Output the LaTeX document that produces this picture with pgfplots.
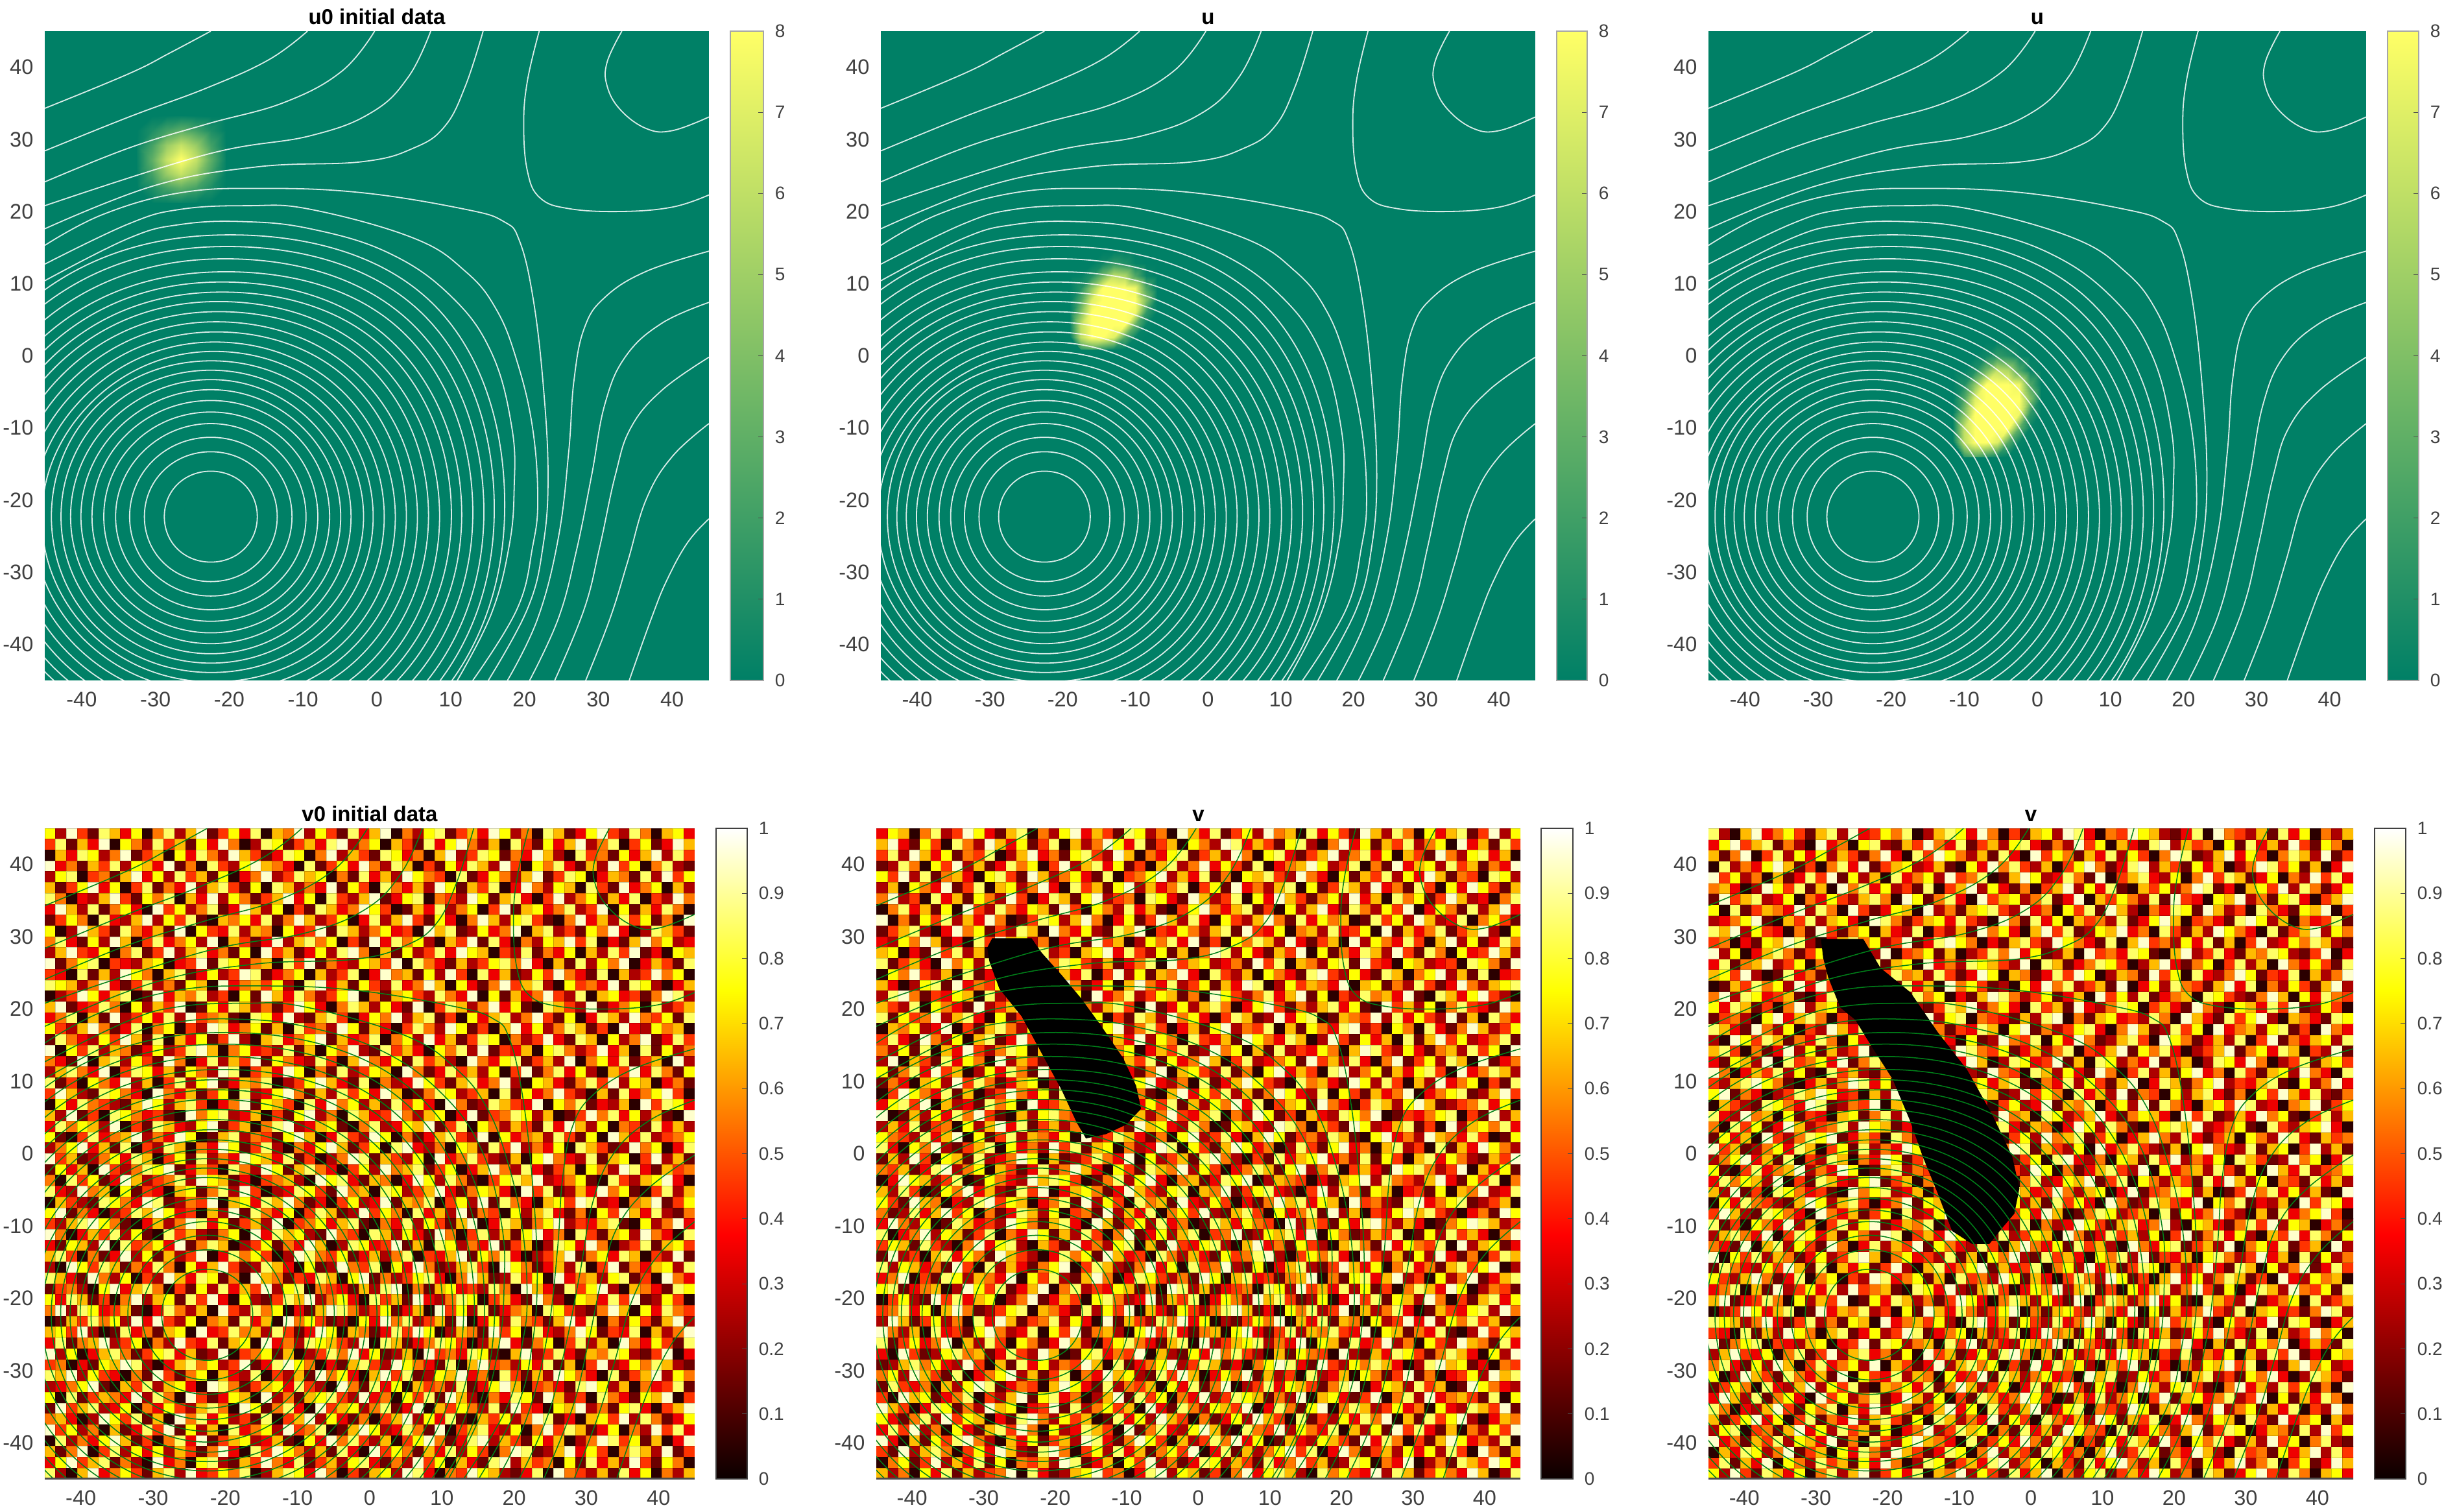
\documentclass[border=0pt]{standalone}
\usepackage{fontspec}
\setmainfont{Liberation Sans}
\usepackage{pgfplots}
\usepackage{pgfplotstable}
\pgfplotsset{compat=1.18}

\definecolor{ticktext}{gray}{0.25}
\definecolor{summerlow}{rgb}{0,0.5,0.4}
\definecolor{linegreen}{rgb}{0,0.5,0.1}

\pgfplotsset{
  colormap={summerm}{rgb(0cm)=(0,0.5,0.4) rgb(1cm)=(1,1,0.4)},
  colormap={hotm}{rgb(0cm)=(0.04,0,0) rgb(3cm)=(1,0,0) rgb(6cm)=(1,1,0) rgb(8cm)=(1,1,1)},
  panel/.style={
    scale only axis, anchor=south west,
    xmin=-45, xmax=45, ymin=-45, ymax=45,
    xtick={-40,-30,...,40}, ytick={-40,-30,...,40},
    major tick length=0pt,
    axis line style={draw=none},
    tick label style={font=\fontsize{6.5}{7}\selectfont, text=ticktext,
      /pgf/number format/assume math mode=true},
    title style={font=\bfseries\fontsize{6.6}{7}\selectfont, yshift=-7.5pt},
    clip=true,
    ctrc/.style={ctr, /tikz/smooth cycle},
  },
  cbar/.style n args={3}{
    colorbar,
    colorbar style={
      at={(parent axis.north east)}, anchor=north west, xshift=#1,
      width=#2, ytick={#3},
      major tick length=1.6pt,
      tick align=inside, ytick pos=right, yticklabel pos=right,
      tick style={draw=black!70},
      tick label style={font=\fontsize{5.6}{6}\selectfont, text=ticktext,
        /pgf/number format/assume math mode=true},
    },
  },
  topcbar/.style 2 args={colormap name=summerm, point meta min=0, point meta max=8,
    axis background/.style={fill=summerlow},
    ctr/.style={smooth, tension=0.68, no markers, white, draw opacity=0.85, line width=0.36pt},
    cbar={#1}{#2}{0,1,...,8},
    colorbar style={axis line style={draw=black!35}}},
  % speckle digits d sit at (d+0.5)/10 of the colour bar
  botcbar/.style 2 args={colormap name=hotm, point meta min=-0.5, point meta max=9.5,
    clip marker paths=true,
    ctr/.style={smooth, tension=0.68, no markers, linegreen, line width=0.3pt},
    cbar={#1}{#2}{-0.5,0.5,...,9.5},
    colorbar style={axis line style={draw=black!75},
      yticklabels={0,0.1,0.2,0.3,0.4,0.5,0.6,0.7,0.8,0.9,1}}},
}

% Speckle of v: hand-typed estimate of its look, not read cell by cell;
% 60x60 against about 90x90 in the picture. Top row first.
\pgfplotstableread[header=false]{
7 2 9 4 1 8 6 3 7 0 5 8 2 6 9 1 4 7 3 8 0 6 5 9 2 7 4 1 8 3 6 9 0 5 2 7 8 1 4 6 3 9 7 2 5 0 8 6 1 3 7 9 4 2 8 5 0 6 7 3
4 8 1 6 3 9 0 7 5 2 8 4 6 1 7 3 9 5 0 2 8 7 1 4 6 3 8 9 2 5 7 0 6 4 1 8 3 7 9 5 2 6 0 8 4 1 7 3 6 9 2 5 8 0 4 7 1 3 9 6
0 6 3 8 7 2 5 9 1 4 6 0 7 3 8 5 2 9 6 4 1 3 8 7 0 5 9 2 6 4 1 8 7 3 5 0 6 9 2 4 8 7 1 5 3 9 6 2 0 8 4 5 1 7 3 6 9 2 8 4
9 3 5 1 6 4 8 2 7 6 3 9 1 5 0 8 4 2 7 9 6 5 3 0 8 1 4 7 3 9 5 2 8 6 0 4 1 7 3 8 6 2 9 4 0 7 5 8 3 1 6 2 9 4 7 0 5 8 2 1
2 7 8 0 4 5 1 6 9 3 7 2 8 4 6 1 7 0 3 5 9 2 4 8 6 7 0 5 1 8 3 6 2 9 7 5 4 0 8 1 3 7 5 2 6 9 1 4 8 7 0 3 6 5 1 8 2 9 4 7
6 1 4 7 9 3 7 0 4 8 1 5 3 9 2 6 8 4 1 7 0 8 6 2 5 3 9 1 7 4 0 8 5 3 6 2 9 7 1 6 4 8 0 3 9 5 2 7 6 0 8 4 1 9 3 5 7 0 6 2
8 5 0 3 2 6 9 4 1 7 5 8 0 6 3 9 2 7 5 1 4 6 9 3 7 0 8 4 2 6 9 1 3 7 8 0 5 4 2 9 7 1 6 8 3 0 4 9 2 5 7 1 6 3 8 0 4 2 9 5
3 9 6 2 8 1 5 7 3 0 9 4 7 2 5 8 1 3 9 6 2 7 0 4 1 8 6 3 5 9 7 4 0 1 6 3 8 2 5 7 0 4 9 1 6 7 3 5 8 2 4 9 0 7 1 6 3 8 5 0
1 4 7 5 0 8 3 2 6 9 2 7 4 8 1 0 6 5 7 3 8 1 5 9 6 2 4 7 0 3 8 2 6 9 4 1 7 3 0 5 9 6 2 7 8 4 1 0 5 9 3 6 2 8 4 7 1 5 0 9
7 0 2 9 6 4 1 8 5 3 6 1 9 0 7 4 3 8 2 6 5 0 7 3 4 9 1 8 6 2 5 7 3 4 0 9 6 8 1 2 7 3 5 9 0 6 8 2 4 1 7 5 9 3 0 2 8 6 4 1
5 8 3 1 7 2 9 6 0 4 8 3 5 7 2 9 0 6 4 1 3 9 2 6 8 5 7 0 4 1 9 3 8 5 7 2 0 6 4 9 1 8 3 0 5 2 7 6 9 4 8 0 3 1 6 9 5 7 2 3
2 6 9 4 3 7 0 5 8 1 4 9 2 6 8 3 5 1 7 0 9 4 6 1 3 7 2 8 9 5 0 6 1 7 2 4 8 3 9 7 6 0 4 2 8 1 5 3 7 0 6 2 8 4 9 1 3 0 7 6
9 1 5 7 8 0 4 3 2 6 7 0 3 4 9 1 8 7 2 5 6 0 8 4 9 1 5 3 2 7 6 4 9 0 8 5 3 1 6 2 4 7 8 5 9 3 0 6 1 8 2 7 5 9 0 3 6 4 1 8
4 3 0 8 1 6 2 9 7 5 0 6 8 1 3 7 2 4 9 8 1 3 5 7 0 6 2 4 8 0 3 9 5 6 1 7 2 9 4 0 8 3 6 1 2 7 4 9 5 3 1 8 0 6 2 4 9 5 7 0
8 7 6 2 5 9 3 1 4 8 2 5 1 7 6 0 9 3 5 6 4 7 2 0 8 9 3 6 1 7 4 2 8 3 5 9 6 0 7 3 1 5 9 4 6 8 2 0 7 4 5 3 9 1 8 7 2 0 3 6
0 2 4 9 7 3 6 8 0 1 9 3 6 5 8 2 4 0 7 1 9 6 3 8 5 2 4 7 9 0 5 1 6 7 4 2 8 5 3 9 0 7 1 6 3 5 9 4 2 8 0 6 7 3 4 1 5 9 8 2
6 9 1 3 4 8 5 0 7 2 6 4 9 0 1 7 3 8 6 2 5 1 4 9 7 3 0 5 8 6 2 7 3 1 9 0 4 8 6 2 5 9 3 7 1 0 8 6 4 2 9 1 3 5 7 0 8 2 4 6
3 5 8 0 6 1 9 2 4 7 3 8 2 9 4 5 6 1 0 8 7 3 9 2 1 6 8 4 0 3 7 5 9 2 6 8 1 4 0 7 3 6 8 2 5 9 4 1 7 0 3 8 6 2 9 5 4 7 1 8
7 4 2 6 9 5 1 3 8 0 5 7 0 4 2 9 8 3 5 7 1 6 0 8 4 5 2 9 7 1 6 3 0 4 8 5 2 9 7 1 4 0 6 9 3 7 2 5 8 6 1 4 0 9 3 2 7 5 6 0
1 8 5 3 2 7 4 9 6 1 8 0 6 3 7 1 4 9 2 0 6 8 3 5 7 9 1 6 3 4 8 0 5 7 2 9 3 6 1 4 8 7 0 5 2 4 9 3 1 8 6 0 7 2 5 9 1 3 8 4
9 0 7 4 8 2 6 5 1 3 7 2 4 8 9 6 0 5 7 3 4 2 8 1 6 0 7 5 9 2 1 8 4 6 3 0 7 5 8 2 9 1 4 3 6 0 7 8 5 2 4 9 3 6 0 8 1 7 2 5
5 3 1 9 0 6 8 2 7 4 1 9 5 0 3 8 2 6 4 9 1 7 5 3 2 8 4 0 6 9 5 3 7 1 8 4 6 2 0 9 5 3 7 8 1 4 6 2 9 0 5 7 3 8 1 4 6 0 9 2
2 6 8 5 3 9 0 4 8 7 3 6 1 7 5 2 9 8 0 4 6 3 9 7 0 5 1 8 2 4 7 6 0 9 5 1 3 8 4 6 2 7 0 4 9 1 5 8 3 7 2 0 6 4 9 3 8 5 1 7
8 1 4 0 7 5 3 9 2 6 0 4 8 2 7 9 1 3 6 5 8 0 2 4 7 9 6 3 1 8 0 5 2 3 9 7 4 1 6 8 3 5 9 2 0 7 6 3 1 5 8 4 9 2 7 6 0 3 5 1
4 9 6 2 1 8 7 5 3 0 9 5 3 6 1 4 7 0 8 2 3 7 9 5 1 6 2 8 4 7 3 9 6 0 1 5 8 7 2 4 6 0 8 1 7 3 5 9 4 2 0 6 1 8 3 5 7 9 4 0
0 7 3 8 5 4 2 1 6 9 7 2 6 8 4 0 3 5 9 1 7 6 4 0 8 3 9 5 7 2 6 1 8 4 7 3 0 9 5 1 2 8 6 4 3 9 0 7 5 8 1 3 2 6 0 9 4 8 7 3
6 2 9 1 4 0 8 7 5 3 4 1 0 9 5 7 8 2 3 6 0 4 1 7 9 2 5 0 8 6 3 4 9 5 2 6 7 0 3 9 1 4 5 8 7 2 6 0 1 4 9 5 8 3 7 2 6 1 0 9
3 8 5 7 6 2 9 0 4 1 8 6 3 2 7 9 1 4 6 0 5 8 9 2 3 6 7 1 0 5 8 2 3 7 6 9 1 4 8 0 7 5 2 6 4 1 8 3 9 6 2 7 0 5 4 1 8 3 6 2
7 1 0 4 8 3 5 6 9 2 5 3 9 7 0 1 6 8 2 5 4 1 7 9 6 0 3 8 4 2 9 7 0 5 1 3 6 8 4 2 9 0 7 3 5 6 2 8 4 1 7 0 9 6 3 8 2 4 5 7
2 5 7 9 3 6 1 8 0 4 2 8 6 0 5 3 9 7 1 4 8 2 0 5 3 7 9 6 1 4 7 0 8 9 3 2 5 0 7 6 1 8 4 9 2 5 3 7 0 8 6 4 1 2 9 5 7 0 3 8
9 4 6 1 2 5 7 3 8 6 0 4 7 1 8 2 5 3 9 7 6 3 8 1 4 0 2 5 9 8 1 6 4 2 7 0 9 3 5 8 4 2 1 6 0 7 9 5 3 2 8 1 6 7 0 4 9 2 6 1
1 7 3 6 0 9 4 2 5 8 7 9 1 3 6 4 0 8 5 2 9 7 1 6 8 5 3 0 4 7 2 9 5 6 8 1 4 7 0 3 6 9 5 2 8 3 1 4 6 0 7 5 2 9 8 3 1 6 4 5
5 0 8 4 7 1 3 9 6 2 4 5 8 2 9 7 6 1 3 0 4 5 6 2 0 9 7 8 3 1 6 5 0 3 9 7 2 8 5 1 0 4 7 8 6 9 2 3 5 7 1 0 8 4 2 6 7 9 3 0
8 3 2 9 5 6 0 7 1 4 3 0 6 7 1 5 8 2 9 4 0 2 3 8 7 4 1 9 5 6 0 8 7 2 4 6 9 3 1 5 7 6 3 0 9 4 8 1 2 6 3 9 5 7 1 0 4 8 2 6
0 6 4 2 1 8 7 5 3 9 8 1 2 5 4 9 0 6 7 3 8 6 9 5 1 3 0 4 7 2 3 9 1 6 5 8 0 4 7 2 9 1 8 5 3 0 6 7 4 9 8 2 3 0 5 6 9 1 4 7
7 9 1 5 3 0 2 4 8 6 9 7 3 4 0 6 2 9 1 8 5 3 7 0 4 8 6 1 2 9 4 7 5 0 8 3 6 2 9 1 5 4 0 7 2 6 8 3 1 5 0 7 4 9 6 3 8 2 1 5
4 2 6 8 9 7 5 1 0 3 6 2 5 9 8 3 7 1 4 6 2 9 0 4 5 7 3 6 8 1 0 5 3 8 2 7 4 1 6 9 0 3 8 6 1 5 7 9 2 4 3 6 8 1 0 7 2 5 9 3
9 5 0 3 6 4 8 2 7 1 0 8 4 6 2 1 5 7 0 9 3 8 6 7 2 1 9 5 4 0 8 6 2 7 3 1 9 5 0 4 8 2 6 1 7 9 3 5 0 8 4 1 6 7 2 9 5 3 0 8
3 1 7 6 2 9 0 8 4 5 7 3 9 1 5 8 6 0 2 4 7 1 5 3 9 6 0 2 8 7 3 4 9 1 6 0 8 7 2 5 3 9 1 4 6 0 2 8 7 3 9 5 0 2 4 8 1 6 7 4
6 8 4 0 5 1 3 9 2 7 1 6 2 4 9 0 3 8 5 7 4 0 2 9 8 5 4 7 1 3 6 2 5 8 0 4 3 6 9 1 7 5 8 3 0 2 4 6 9 1 5 7 3 8 6 0 4 2 9 1
2 0 9 7 4 8 6 1 5 3 8 5 0 7 3 6 9 4 1 2 8 6 3 0 7 1 2 9 5 4 8 0 7 3 9 5 1 2 6 8 4 0 9 7 5 1 3 6 2 8 0 4 9 1 5 3 6 7 2 8
8 6 3 1 9 5 2 7 0 4 2 9 6 3 8 7 1 5 0 9 6 5 1 4 3 8 6 0 7 9 1 5 2 4 7 8 3 0 5 9 6 1 2 8 4 7 0 9 3 5 6 2 7 8 1 4 0 9 5 3
1 4 5 2 0 7 9 3 6 8 5 0 4 1 7 2 8 3 6 4 9 2 7 8 0 5 4 3 1 6 2 8 9 0 5 1 6 7 3 4 2 8 5 0 9 6 3 1 8 4 7 9 2 0 6 5 3 1 8 7
7 3 8 6 1 4 0 5 9 2 6 7 1 8 4 9 3 0 7 2 1 4 8 6 9 2 5 7 3 0 8 4 6 1 9 3 2 5 8 7 0 4 6 3 1 9 5 2 0 7 6 3 8 4 9 1 2 7 4 0
5 9 2 8 7 3 4 6 1 0 3 8 5 2 6 0 9 4 2 8 5 7 0 3 1 6 9 8 5 2 4 7 1 3 6 0 9 4 7 2 8 1 3 5 6 0 8 7 4 2 1 5 9 6 0 7 3 8 5 4
0 1 6 4 8 5 7 2 9 3 9 4 2 7 0 5 6 1 8 3 6 0 9 5 7 4 1 2 0 7 3 9 5 8 2 4 6 1 9 0 3 7 2 8 5 4 1 6 9 3 8 0 5 2 7 4 1 6 9 2
6 7 4 9 2 0 1 8 3 5 1 6 7 0 9 3 4 8 5 6 2 8 4 1 3 9 7 0 6 5 1 3 8 4 9 7 0 2 6 5 1 9 4 7 0 8 3 2 5 9 7 1 4 3 8 0 6 2 5 9
3 8 1 5 6 9 2 4 7 0 5 2 9 4 3 8 1 6 7 0 9 3 5 2 8 7 6 4 2 9 0 8 6 1 3 5 8 7 4 0 2 6 9 3 1 5 7 0 4 8 2 6 0 9 5 3 7 4 1 8
9 2 7 0 3 6 8 5 1 4 7 8 3 6 1 2 9 0 4 5 7 1 6 0 2 4 8 5 9 3 7 1 2 6 0 9 4 5 3 8 7 1 0 6 9 2 4 8 3 1 6 5 8 7 2 1 4 9 0 3
4 5 0 3 1 7 6 9 8 2 0 3 6 8 5 7 2 4 9 1 3 8 9 7 5 0 3 1 6 8 4 2 9 7 5 3 1 8 0 6 9 4 5 2 7 3 8 1 6 0 4 9 2 3 7 5 8 6 2 1
8 6 9 2 7 4 3 0 5 1 9 4 1 5 7 0 6 3 2 8 0 4 2 6 1 9 5 7 3 0 6 9 4 8 1 2 7 6 9 3 5 0 8 4 1 6 2 9 7 5 3 0 8 1 4 6 9 2 7 5
2 3 5 7 9 1 0 6 4 8 2 6 7 3 0 9 8 5 1 4 6 7 3 8 4 2 0 9 5 1 8 3 7 0 6 4 5 2 8 1 3 7 9 6 0 4 5 3 1 8 9 7 2 6 0 5 3 4 8 1
7 0 8 1 4 6 5 3 9 2 8 5 0 9 4 1 3 7 6 0 9 2 5 1 6 7 8 4 2 9 3 5 0 7 4 8 1 9 6 2 0 5 3 8 7 1 9 6 2 4 0 8 5 3 1 7 6 9 0 4
1 9 4 6 8 2 3 7 0 5 3 7 4 2 6 8 5 0 9 7 1 5 8 3 0 9 4 6 7 2 5 8 1 3 9 0 6 4 7 5 2 8 1 9 4 3 0 7 6 9 2 5 1 7 8 3 0 4 6 9
5 6 3 0 2 9 7 4 8 1 6 0 9 5 8 3 7 2 4 1 8 0 4 6 9 2 7 3 1 5 0 4 6 9 2 7 3 8 1 0 6 4 7 2 5 9 8 1 3 0 6 7 4 9 2 8 5 1 3 7
9 4 7 2 5 0 6 1 3 8 4 9 1 7 2 6 0 8 3 5 7 2 9 4 5 8 0 1 6 9 7 2 3 8 5 1 9 0 4 6 8 3 2 7 0 5 9 4 8 6 1 3 7 0 5 2 9 4 8 3
0 8 2 5 3 7 9 6 1 4 0 5 8 3 9 1 4 6 7 2 3 6 1 0 7 3 9 5 8 4 2 6 0 4 7 9 5 1 3 8 9 2 6 4 1 7 3 6 0 2 5 9 8 4 7 1 6 0 3 9
6 1 5 9 0 4 8 2 7 3 7 2 6 4 1 5 9 3 0 8 4 9 7 5 2 6 1 8 3 0 9 4 7 5 1 6 3 8 2 7 4 0 5 9 8 1 2 6 9 3 7 4 0 5 8 6 2 9 1 4
3 7 9 4 6 8 1 5 2 0 9 3 5 0 7 8 2 1 6 4 9 5 3 8 1 4 6 2 7 8 3 1 5 2 9 4 7 0 6 3 1 8 9 2 6 4 5 0 7 1 8 3 6 2 9 4 1 7 5 0
8 2 0 6 9 3 5 7 4 1 6 8 2 9 3 4 7 5 8 0 2 6 8 7 3 9 5 0 4 1 6 7 2 9 8 3 0 5 4 9 7 6 2 1 3 8 0 9 5 4 2 6 1 8 3 7 0 5 2 6
4 5 1 7 3 2 0 9 6 8 1 4 7 6 5 0 9 2 3 7 1 0 4 9 6 5 8 3 7 2 4 9 8 0 6 1 3 7 5 2 8 4 6 0 9 7 1 3 5 6 4 0 9 7 2 3 8 6 1 5
}\noise

% Round blob of u0 (values on 2-unit steps), 7 rows of 7 columns
\pgfplotstableread[row sep=\\]{
m\\
0\\0\\0.1\\0.25\\0.1\\0\\0\\
0\\0.9\\2.1\\2.9\\2.1\\0.9\\0\\
0.1\\2.1\\4.8\\6.2\\4.8\\2.1\\0.1\\
0.25\\2.9\\6.2\\8\\6.2\\2.9\\0.25\\
0.1\\2.1\\4.8\\6.2\\4.8\\2.1\\0.1\\
0\\0.9\\2.1\\2.9\\2.1\\0.9\\0\\
0\\0\\0.1\\0.25\\0.1\\0\\0\\
}\blobA

% Slanted blob of u, 9 rows of 9 columns
\pgfplotstableread[row sep=\\]{
m\\
0\\0\\0\\0\\0\\0\\0\\0\\0\\
0\\0\\0\\0.5\\1.5\\1\\0.2\\0\\0\\
0\\0.1\\1\\3.5\\6\\5.5\\2.5\\0.3\\0\\
0\\1\\4.5\\8\\8\\8\\7.5\\2.5\\0\\
0.1\\2.5\\7\\8\\8\\8\\8\\4\\0.1\\
0.1\\4\\8\\8\\8\\8\\7.5\\1.5\\0\\
0.3\\6\\8\\8\\8\\8\\3\\0.2\\0\\
0.3\\6\\8\\8\\7\\2.5\\0.2\\0\\0\\
0\\1.5\\2.5\\1.5\\0.5\\0\\0\\0\\0\\
}\blobB

% all speckle columns; #1,#2 = +1/-1 flip the table
\newcommand\noisecells[3]{%
  \pgfplotsinvokeforeach{0,...,59}{%
    \addplot[scatter, only marks, mark=square*, mark size=#3,
      mark options={line width=0.1pt}, point meta=explicit]
      table[x index=0, y index=0, meta index=##1,
        x expr={#1*(-44.25+1.5*##1)}, y expr={#2*(44.25-1.5*\coordindex)}] {\noise};
  }%
}

% the potential's level lines, same in every panel
\newcommand\contours{%
\addplot[ctrc] coordinates {(-16.2,-22.3)(-18,-17.8)(-22.5,-16)(-27,-17.8)(-28.8,-22.3)(-27,-26.8)(-22.5,-28.6)(-18,-26.8)};
\addplot[ctrc] coordinates {(-13.5,-22.3)(-16.1,-15.9)(-22.5,-13.3)(-28.9,-15.9)(-31.5,-22.3)(-28.9,-28.7)(-22.5,-31.3)(-16.1,-28.7)};
\addplot[ctrc] coordinates {(-11.5,-22.3)(-14.7,-14.5)(-22.5,-11.3)(-30.3,-14.5)(-33.5,-22.3)(-30.3,-30.1)(-22.5,-33.3)(-14.7,-30.1)};
\addplot[ctrc] coordinates {(-9.6,-22.3)(-13.4,-13.2)(-22.5,-9.4)(-31.6,-13.2)(-35.4,-22.3)(-31.6,-31.4)(-22.5,-35.2)(-13.4,-31.4)};
\addplot[ctrc] coordinates {(-8,-22.3)(-12.2,-12)(-22.5,-7.8)(-32.8,-12)(-37,-22.3)(-32.8,-32.6)(-22.5,-36.8)(-12.2,-32.6)};
\addplot[ctrc] coordinates {(-6.4,-22.3)(-11.1,-10.9)(-22.5,-6.2)(-33.9,-10.9)(-38.6,-22.3)(-33.9,-33.7)(-22.5,-38.4)(-11.1,-33.7)};
\addplot[ctrc] coordinates {(-4.9,-22.3)(-10.1,-9.9)(-22.5,-4.7)(-34.9,-9.9)(-40.1,-22.3)(-34.9,-34.7)(-22.5,-39.9)(-10.1,-34.7)};
\addplot[ctrc] coordinates {(-3.5,-22.3)(-9.1,-8.9)(-22.5,-3.3)(-35.9,-8.9)(-41.5,-22.3)(-35.9,-35.7)(-22.5,-41.3)(-9.1,-35.7)};
\addplot[ctrc] coordinates {(-1.8,-22.3)(-8,-7.9)(-22.5,-2)(-36.9,-7.9)(-42.8,-22.3)(-36.9,-36.7)(-22.5,-42.6)(-8,-36.7)};
\addplot[ctrc] coordinates {(-0.5,-22.3)(-7,-6.8)(-22.5,-0.7)(-37.9,-6.9)(-44.1,-22.3)(-37.9,-37.7)(-22.5,-43.9)(-7,-37.8)};
\addplot[ctrc] coordinates {(1,-22.3)(-5.9,-5.7)(-22.5,0.6)(-38.5,-6.3)(-45.4,-22.3)(-38.7,-38.5)(-22.5,-45.2)(-5.9,-38.9)};
\addplot[ctrc] coordinates {(2.5,-22.3)(-4.9,-4.7)(-22.5,1.9)(-39.4,-5.4)(-46.7,-22.3)(-39.6,-39.4)(-22.5,-46.5)(-4.8,-40)};
\addplot[ctrc] coordinates {(4,-22.3)(-3.7,-3.5)(-22.5,3.3)(-40.4,-4.4)(-48.1,-22.3)(-40.6,-40.4)(-22.5,-47.9)(-3.8,-41)};
\addplot[ctrc] coordinates {(5.5,-22.3)(-2.7,-2.5)(-22.5,4.7)(-41.4,-3.4)(-49.5,-22.3)(-41.6,-41.4)(-22.5,-49.3)(-2.7,-42.1)};
\addplot[ctrc] coordinates {(7,-22.3)(-1.4,-1.2)(-22.5,6.1)(-42.4,-2.4)(-50.9,-22.3)(-42.6,-42.4)(-22.5,-50.7)(-1.6,-43.2)};
\addplot[ctrc] coordinates {(8.5,-22.3)(-0.4,-0.2)(-22.5,7.5)(-43.4,-1.4)(-52.3,-22.3)(-43.6,-43.4)(-22.5,-52.1)(-0.5,-44.3)};
\addplot[ctrc] coordinates {(10.1,-22.3)(0.9,1.1)(-22.5,8.8)(-44.3,-0.5)(-53.6,-22.3)(-44.5,-44.3)(-22.5,-53.4)(0.5,-45.3)};
\addplot[ctr] coordinates {(-22.5,-54.8)(1.5,-46.3)(11.5,-22.3)(1.9,2.1)(-22.5,10.2)(-45.3,0.5)(-55,-22.3)};
\addplot[ctr] coordinates {(-22.5,-56.2)(2.6,-47.4)(13,-22.3)(3.3,3.5)(-22.5,11.6)(-46.3,1.5)(-56.4,-22.3)};
\addplot[ctr] coordinates {(-22.5,-58)(3.7,-48.5)(14.5,-22.3)(4.5,4.7)(-22.5,13.4)(-47.5,2.7)(-58,-22.3)};
\addplot[ctr] coordinates {(-22.5,-60)(4.7,-49.5)(15.9,-22.3)(5.9,6.1)(-22.5,15.1)(-48.7,3.9)(-60,-22.3)};
\addplot[ctr] coordinates {(-22.5,-61)(5.6,-50.4)(17.3,-22.3)(7.3,7.5)(-22.5,16.7)(-49.8,5)(-61,-22.3)};
\addplot[ctr] coordinates {(-45,10.4)(-33.6,16.3)(-26.6,18.2)(-18.2,18.6)(-9,17.6)(1.5,14.3)(9.9,8.4)(15.5,0.5)(18.3,-10)(18.6,-18.6)(17.9,-26.5)(15.5,-35.8)(10.9,-45)};
\addplot[ctr] coordinates {(-45,12.7)(-33.6,18.3)(-26.6,20.3)(-17.5,20.8)(-9,20.3)(5,16.3)(12,11.7)(16.2,6.4)(19,-0.8)(21.1,-10)(21.8,-19.9)(21.1,-26.5)(19,-35.1)(13,-45)};
\addplot[ctr] coordinates {(-45,15.3)(-37.1,19.6)(-26.6,22.6)(-15.4,23.2)(-2,22.6)(12,20.3)(17.2,18.6)(19.3,16)(21.1,8.4)(22.5,-3.5)(23.2,-16.6)(22.5,-26.5)(20.4,-35.1)(15.1,-45)};
\addplot[ctr] coordinates {(-45,34.3)(-33.6,39.1)(-28,42)(-22.5,45)};
\addplot[ctr] coordinates {(-45,28.4)(-33.6,33.1)(-23.1,37.1)(-14.7,41)(-9.4,45)};
\addplot[ctr] coordinates {(-45,24.1)(-33.6,28.8)(-23.1,32.1)(-12.6,35.1)(-4.8,39.4)(-0.3,45)};
\addplot[ctr] coordinates {(-45,20.8)(-23.1,27.9)(-9,30.5)(-0.6,33.8)(4.3,38.7)(7.3,45)};
\addplot[ctr] coordinates {(-45,17.6)(-30.1,23.6)(-16.1,26.2)(-2,26.9)(5,28.8)(9.2,31.8)(12,37.4)(14.4,45)};
\addplot[ctr] coordinates {(22,45)(20.4,38.1)(19.9,32.1)(20.4,25.6)(22.1,21.9)(26,20.4)(33,20)(40,20.6)(45,22.3)};
\addplot[ctr] coordinates {(33.2,45)(31.2,40.7)(31.2,37.4)(33,34.1)(36.5,31.5)(40,31.2)(45,33.1)};
\addplot[ctr] coordinates {(45,-22.6)(42.1,-25.9)(39.3,-31.1)(37.2,-36.4)(34.2,-45)};
\addplot[ctr] coordinates {(45,-9.4)(40,-14)(36.5,-19.9)(34,-28.5)(31.6,-36.4)(28.3,-45)};
\addplot[ctr] coordinates {(45,-0.2)(38.6,-4.8)(34.4,-10)(32.3,-16.6)(30.2,-26.5)(28.1,-35.1)(24.1,-45)};
\addplot[ctr] coordinates {(45,7.4)(38.6,4.5)(33.7,-0.1)(30.9,-6.7)(29.1,-16.6)(27,-27.2)(24.6,-36.4)(20.7,-45)};
\addplot[ctr] coordinates {(45,14.5)(36.5,11.7)(30.9,8.1)(28.1,3.8)(26.7,-3.5)(26,-13.3)(24.6,-25.2)(21.8,-36.4)(17.7,-45)};
}
\newcommand\bottomedge{\addplot[no markers, draw=black!70, line width=0.8pt] coordinates {(-45,-45)(45,-45)};}

\begin{document}
\begin{tikzpicture}[x=1pt,y=1pt]
\path[use as bounding box] (0,0) rectangle (753.6,466);

% top row (xshift is added to pgfplots' own 0.3cm)
\begin{axis}[panel, at={(13.8pt,256.2pt)}, width=204.8pt, height=200.2pt,
    title={u0 initial data}, topcbar={-1.9pt}{10.2pt}]
  \addplot[surf, shader=interp, mesh/cols=7, point meta=\thisrow{m}]
    table[x index=0, y index=0, x expr={-32.5+2*mod(\coordindex,7)}, y expr={33.2-2*floor(\coordindex/7)}] {\blobA};
  \contours
\end{axis}
\begin{axis}[panel, at={(271.6pt,256.2pt)}, width=201.8pt, height=200.2pt,
    title={u}, topcbar={-1.9pt}{9.4pt}]
  \addplot[surf, shader=interp, mesh/cols=9, point meta=\thisrow{m}]
    table[x index=0, y index=0, x expr={-19+1.5*mod(\coordindex,9)}, y expr={14.5-1.7*floor(\coordindex/9)}] {\blobB};
  \contours
\end{axis}
\begin{axis}[panel, at={(526.8pt,256.2pt)}, width=202.8pt, height=200.2pt,
    title={u}, topcbar={-1.9pt}{9.6pt}]
  \addplot[surf, shader=interp, mesh/cols=9, point meta=\thisrow{m}]
    table[x index=0, y index=0, x expr={-11.5+1.5*mod(\coordindex,9)}, y expr={2-2*floor(\coordindex/9)}] {\blobB};
  \contours
\end{axis}

% bottom row
\begin{axis}[panel, at={(13.8pt,10pt)}, width=200.4pt, height=200.6pt,
    title={v0 initial data}, botcbar={-1.9pt}{9.6pt}]
  \noisecells{1}{1}{1.72pt}
  \contours
  \bottomedge
\end{axis}
\begin{axis}[panel, at={(270.2pt,10pt)}, width=198.6pt, height=200.6pt,
    title={v}, botcbar={-2.1pt}{9.8pt}]
  \noisecells{-1}{1}{1.72pt}
  \addplot[fill=black, draw=none] coordinates {(-28.8,29.8)(-23.3,29.8)(-21.9,27.8)(-19.1,24.7)(-16.4,21.5)(-13.6,17.7)(-10.5,13.2)(-8.7,9.4)(-8,6.2)(-10.1,4)(-12.9,2.7)(-15.7,2.1)(-17,4.3)(-19.1,8.8)(-21.9,13.9)(-24.7,19)(-27.8,22.8)(-29.2,26.6)(-29.5,28.5)} -- cycle;
  \contours
  \bottomedge
\end{axis}
\begin{axis}[panel, at={(526.8pt,10pt)}, width=198.8pt, height=200.6pt,
    title={v}, botcbar={-1.9pt}{9.6pt}]
  \noisecells{1}{-1}{1.72pt}
  \addplot[fill=black, draw=none] coordinates {(-29.3,29.7)(-23.4,29.7)(-21,25.7)(-16.8,22.3)(-13,16.8)(-8.9,11.6)(-5.4,5.4)(-2.6,-0.4)(-1.6,-4.8)(-2.3,-8.3)(-4.1,-10.4)(-5.8,-12.5)(-8.2,-12.5)(-11,-10.7)(-13,-5.5)(-15.1,-0.4)(-16.8,4.4)(-19.3,10.3)(-22.4,15.1)(-24.5,18.5)(-26.6,20.2)(-28.3,24.4)(-29,27.1)} -- cycle;
  \contours
  \bottomedge
\end{axis}
\end{tikzpicture}
\end{document}
